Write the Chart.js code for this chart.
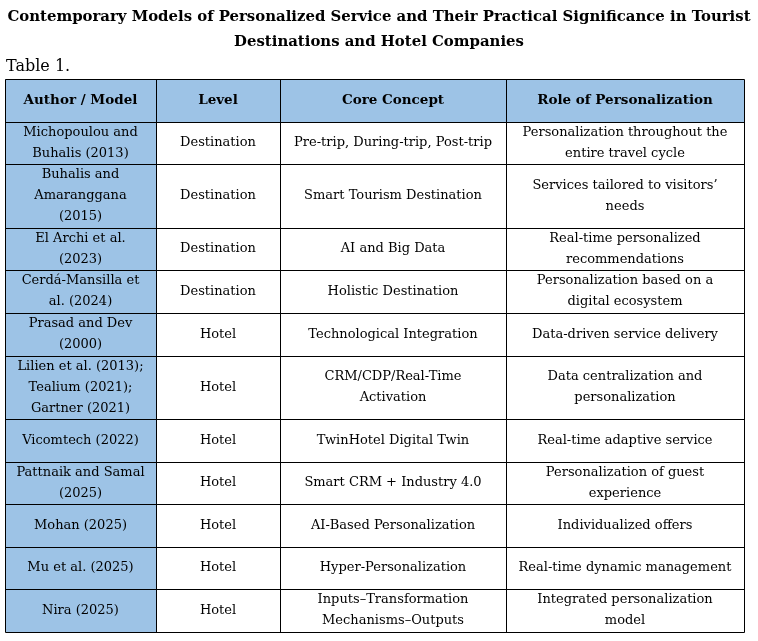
<!DOCTYPE html>
<html>
<head>
<meta charset="utf-8">
<title>Contemporary Models of Personalized Service</title>
<script src="https://cdn.jsdelivr.net/npm/chart.js@4/dist/chart.umd.min.js"></script>
<style>
  html, body { margin: 0; padding: 0; background: #fff; }
  #wrap { width: 758px; height: 641px; position: relative; }
</style>
</head>
<body>
<div id="wrap"><canvas id="table-canvas"></canvas></div>
<script>
// ---- table content ----
const titleLines = [
  'Contemporary Models of Personalized Service and Their Practical Significance in Tourist',
  'Destinations and Hotel Companies'
];
const caption = 'Table 1.';
const headers = ['Author / Model', 'Level', 'Core Concept', 'Role of Personalization'];

const authors = [
  'Michopoulou and\nBuhalis (2013)',
  'Buhalis and\nAmaranggana\n(2015)',
  'El Archi et al.\n(2023)',
  'Cerdá-Mansilla et\nal. (2024)',
  'Prasad and Dev\n(2000)',
  'Lilien et al. (2013);\nTealium (2021);\nGartner (2021)',
  'Vicomtech (2022)',
  'Pattnaik and Samal\n(2025)',
  'Mohan (2025)',
  'Mu et al. (2025)',
  'Nira (2025)'
];
const levels = [
  'Destination', 'Destination', 'Destination', 'Destination',
  'Hotel', 'Hotel', 'Hotel', 'Hotel', 'Hotel', 'Hotel', 'Hotel'
];
const concepts = [
  'Pre-trip, During-trip, Post-trip',
  'Smart Tourism Destination',
  'AI and Big Data',
  'Holistic Destination',
  'Technological Integration',
  'CRM/CDP/Real-Time\nActivation',
  'TwinHotel Digital Twin',
  'Smart CRM + Industry 4.0',
  'AI-Based Personalization',
  'Hyper-Personalization',
  'Inputs\u2013Transformation\nMechanisms\u2013Outputs'
];
const roles = [
  'Personalization throughout the\nentire travel cycle',
  'Services tailored to visitors\u2019\nneeds',
  'Real-time personalized\nrecommendations',
  'Personalization based on a\ndigital ecosystem',
  'Data-driven service delivery',
  'Data centralization and\npersonalization',
  'Real-time adaptive service',
  'Personalization of guest\nexperience',
  'Individualized offers',
  'Real-time dynamic management',
  'Integrated personalization\nmodel'
];

// ---- layout / style ----
const COL_WEIGHTS = [150.7, 123.6, 226.4, 237.3];
const BLUE = '#9dc3e6';
const FONT = "'DejaVu Serif', serif";
const BODY_FONT = '13px ' + FONT;
const HEAD_FONT = 'bold 13.5px ' + FONT;
const LINE_H = 21;

// column edges in scale units
const colEdges = [0];
COL_WEIGHTS.forEach(w => colEdges.push(colEdges[colEdges.length - 1] + w));

// rows: header + body, each row is as tall as its tallest cell (min 2 lines)
const rows = [headers].concat(authors.map((a, i) => [a, levels[i], concepts[i], roles[i]]));
const rowUnits = rows.map(r => Math.max(2, ...r.map(c => c.split('\n').length)));
const rowEdges = [0];
rowUnits.forEach(u => rowEdges.push(rowEdges[rowEdges.length - 1] + u));

const tablePlugin = {
  id: 'tableCells',
  afterDatasetsDraw(chart) {
    const { ctx, scales: { x, y } } = chart;
    ctx.save();
    rows.forEach((row, r) => {
      const top = Math.round(y.getPixelForValue(rowEdges[r]));
      const bot = Math.round(y.getPixelForValue(rowEdges[r + 1]));
      row.forEach((cell, c) => {
        const left = Math.round(x.getPixelForValue(colEdges[c]));
        const right = Math.round(x.getPixelForValue(colEdges[c + 1]));
        ctx.fillStyle = (r === 0 || c === 0) ? BLUE : '#ffffff';
        ctx.fillRect(left, top, right - left, bot - top);

        const lines = cell.split('\n');
        ctx.fillStyle = '#000';
        ctx.font = r === 0 ? HEAD_FONT : BODY_FONT;
        ctx.textAlign = 'center';
        ctx.textBaseline = 'middle';
        const cx = (left + right) / 2;
        const cy = (top + bot) / 2;
        lines.forEach((ln, i) => {
          ctx.fillText(ln, cx, cy + (i - (lines.length - 1) / 2) * LINE_H);
        });
      });
    });
    // grid lines
    ctx.strokeStyle = '#000';
    ctx.lineWidth = 1;
    ctx.beginPath();
    const x0 = Math.round(x.getPixelForValue(colEdges[0])) + 0.5;
    const x1 = Math.round(x.getPixelForValue(colEdges[colEdges.length - 1])) + 0.5;
    const y0 = Math.round(y.getPixelForValue(rowEdges[0])) + 0.5;
    const y1 = Math.round(y.getPixelForValue(rowEdges[rowEdges.length - 1])) + 0.5;
    rowEdges.forEach(v => {
      const py = Math.round(y.getPixelForValue(v)) + 0.5;
      ctx.moveTo(x0, py); ctx.lineTo(x1, py);
    });
    colEdges.forEach(v => {
      const px = Math.round(x.getPixelForValue(v)) + 0.5;
      ctx.moveTo(px, y0); ctx.lineTo(px, y1);
    });
    ctx.stroke();

    // heading and caption
    ctx.fillStyle = '#000';
    ctx.textBaseline = 'middle';
    ctx.textAlign = 'center';
    ctx.font = 'bold 14.9px ' + FONT;
    titleLines.forEach((t, i) => ctx.fillText(t, chart.width / 2, 17 + i * 25));
    ctx.textAlign = 'left';
    ctx.font = '16px ' + FONT;
    ctx.fillText(caption, 6, 67);
    ctx.restore();
  }
};

new Chart(document.getElementById('table-canvas'), {
  type: 'scatter',
  data: { datasets: [{ data: [], pointRadius: 0 }] },
  options: {
    responsive: true,
    maintainAspectRatio: false,
    animation: false,
    layout: { padding: { left: 5, right: 14, top: 79, bottom: 9 } },
    plugins: { legend: { display: false }, tooltip: { enabled: false }, title: { display: false } },
    scales: {
      x: { type: 'linear', display: false, min: 0, max: colEdges[colEdges.length - 1] },
      y: { type: 'linear', display: false, reverse: true, min: 0, max: rowEdges[rowEdges.length - 1] }
    }
  },
  plugins: [tablePlugin]
});
</script>
</body>
</html>
